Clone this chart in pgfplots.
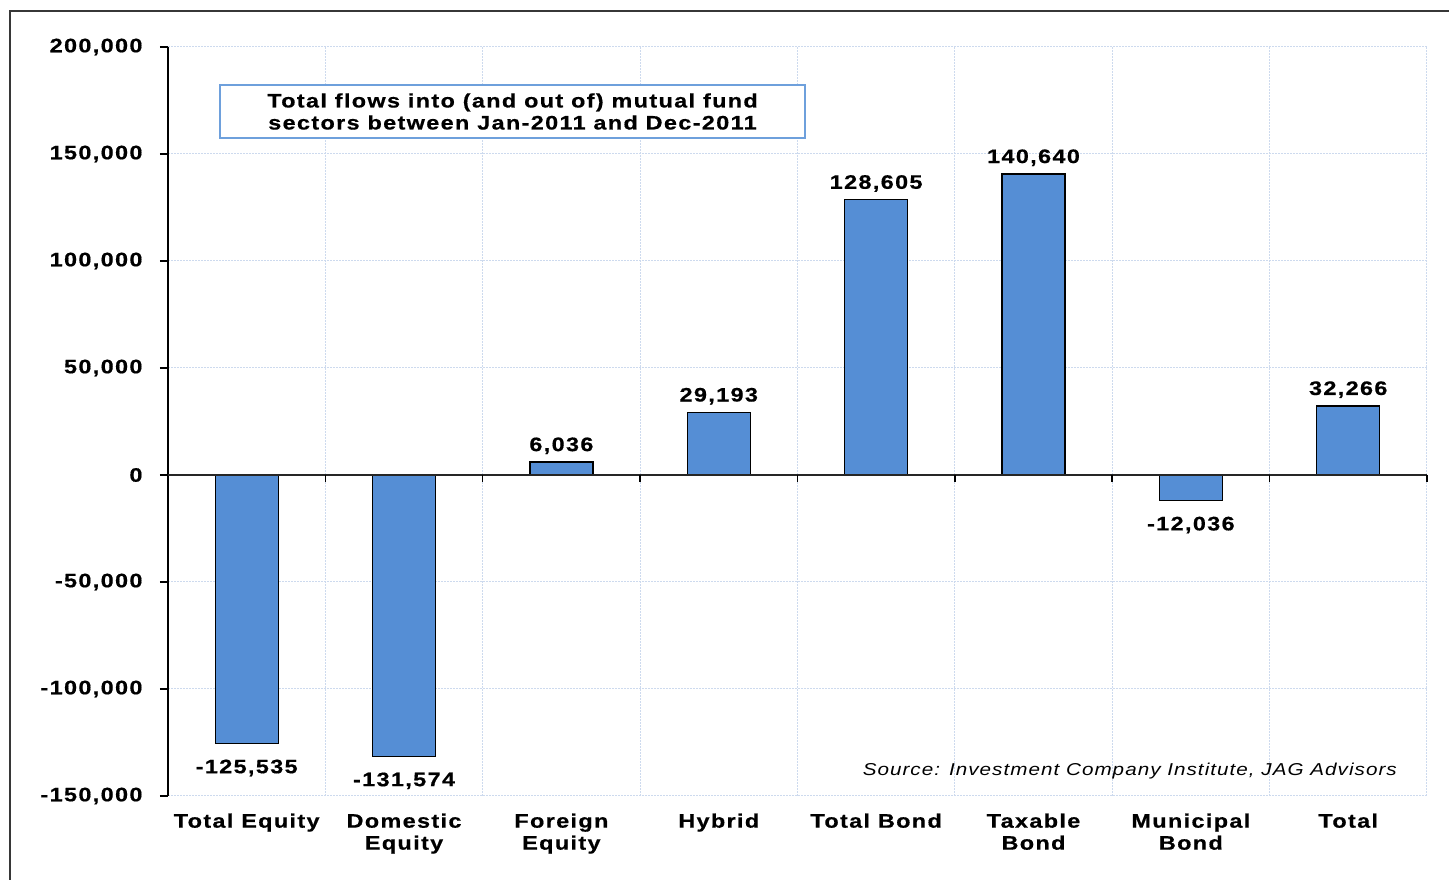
\documentclass[border=0pt]{standalone}
\usepackage{pgfplots}
\pgfplotsset{compat=1.18}
\usepackage{fontspec}
\setmainfont{Liberation Sans}
\newfontfamily\sbf[LetterSpace=7,FakeStretch=1.2,FakeBold=0.6]{Liberation Sans}
\newfontfamily\sit[LetterSpace=6,FakeStretch=1.2]{Liberation Sans}
\definecolor{barblue}{RGB}{85,142,213}
\definecolor{boxblue}{RGB}{110,160,220}
\definecolor{gridc}{RGB}{205,218,238}
\definecolor{framec}{RGB}{55,55,55}
\pgfplotstableread{
x y
0 -125535
1 -131574
6 -12036
}\negdata
\pgfplotstableread{
x y
2 6036
3 29193
4 128605
5 140640
7 32266
}\posdata
\newcommand{\lbl}{\sbf\bfseries\fontsize{19.5pt}{22pt}\selectfont}
\pgfkeys{/pgf/number format/.cd, fixed, 1000 sep={,}, assume math mode=true}
\begin{document}
\begin{tikzpicture}
\useasboundingbox (0,0) rectangle (1449pt,880pt);
\draw[framec, line width=2.2pt] (10pt,-10pt) -- (10pt,869pt) -- (1470pt,869pt);
\begin{axis}[
  at={(168pt,84pt)}, anchor=south west,
  scale only axis, width=1259pt, height=749pt,
  xmin=-0.5, xmax=7.5, ymin=-150000, ymax=200000,
  axis line style={draw=none},
  ytick={-150000,-100000,...,200000},
  scaled y ticks=false,
  ticklabel style={font=\lbl},
  ytick pos=left,
  tick align=outside,
  major tick length=8pt,
  ytick style={black, line width=1.5pt},
  yticklabel style={xshift=-14pt},
  xtick={0,...,7},
  xticklabels={Total Equity,{Domestic\\Equity},{Foreign\\Equity},Hybrid,Total Bond,{Taxable\\Bond},{Municipal\\Bond},Total},
  xticklabel style={align=center, yshift=-6pt},
  xtick style={draw=none},
  minor xtick={-0.5,0.5,...,7.5},
  minor tick length=0pt,
  ymajorgrids, xminorgrids,
  grid style={gridc, line width=1pt, dash pattern=on 1.5pt off 1.5pt},
  clip=false,
]
\addplot[ybar, bar width=63pt, bar shift=0pt, fill=barblue, draw=black, line width=1.3pt,
  nodes near coords, nodes near coords align={vertical},
  every node near coord/.append style={font=\lbl, black, yshift=-12pt}]
  table[x=x,y=y]{\negdata};
\addplot[ybar, bar width=63pt, bar shift=0pt, fill=barblue, draw=black, line width=1.3pt,
  nodes near coords, nodes near coords align={vertical},
  every node near coord/.append style={font=\lbl, black, yshift=4pt}]
  table[x=x,y=y]{\posdata};
\draw[black, line width=1.8pt] (axis cs:-0.5,-150000) -- (axis cs:-0.5,200000);
\draw[black!85, line width=1.8pt] (axis cs:-0.5,0) -- (axis cs:7.5,0);
\pgfplotsinvokeforeach{0.5,1.5,2.5,3.5,4.5,5.5,6.5,7.5}{
  \draw[black, line width=1.5pt] (axis cs:#1,0) -- ++(0pt,-7pt);
}
\end{axis}
\node[draw=boxblue, line width=1.2pt, fill=white, minimum width=585pt, minimum height=53pt, align=center, font=\lbl, inner sep=2pt] at (512.5pt,768.5pt) {Total flows into (and out of) mutual fund\\sectors between Jan-2011 and Dec-2011};
\node[anchor=east, font=\sit\itshape\fontsize{17.2pt}{22pt}\selectfont, inner sep=0pt] at (1397pt,109pt) {Source: Investment Company Institute, JAG Advisors};
\end{tikzpicture}
\end{document}
